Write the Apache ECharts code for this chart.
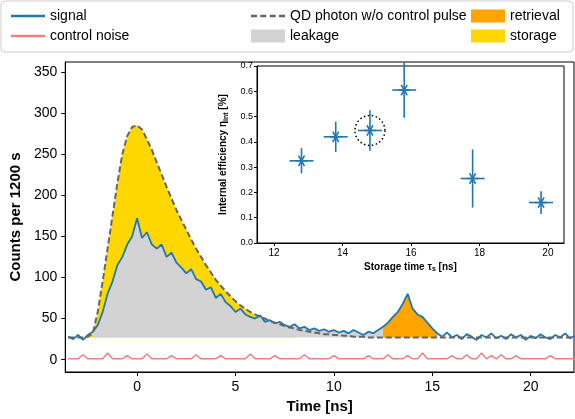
<!DOCTYPE html>
<html>
<head>
<meta charset="utf-8">
<script src="https://cdn.jsdelivr.net/npm/echarts@6/dist/echarts.min.js"></script>
<style>html,body{margin:0;padding:0;background:#fff}#main{width:575px;height:419px}</style>
</head>
<body>
<div id="main"></div>
<script>
// time grid, 0.25 ns steps from -3.5 to 22.25
var times = [];
for (var i = 0; i < 104; i++) times.push(-3.5 + i * 0.25);

var signal = [
  28, 25,
  30, 24, 30, 34,   42, 58, 80, 95,   115, 125, 140, 150,
  172, 148, 155, 140,   135, 140, 125, 130,   118, 112, 105, 110,
  98, 95, 85, 88,   75, 80, 70, 65,   58, 62, 55, 52,
  50, 54, 46, 48,   44, 46, 42, 40,   43, 38, 40, 36,
  38, 35, 37, 34,   36, 33, 35, 32,   36, 33, 30, 34,
  32, 36, 40, 45,   52, 58, 68, 80,   62, 55, 52, 45,
  38, 32, 28, 33,   27, 30, 25, 31,   28, 24, 30, 27,
  32, 26, 29, 25,   31, 27, 30, 24,   29, 26, 31, 27,
  25, 30, 27, 32,
  26, 29
];
var qdPhoton = [
  27, 27,
  27, 27, 28, 32,   58, 95, 135, 175,   215, 250, 272, 283,
  285, 280, 268, 255,   240, 225, 210, 196,   182, 170, 158, 146,
  135, 125, 115, 106,   97, 90, 83, 77,   71, 66, 62, 58,
  55, 52, 50, 47,   45, 43, 41, 39,   38, 36, 35, 34,
  33, 32, 31, 31,   30, 30, 29, 29,   28, 28, 28, 27,
  27, 27, 27, 27,   27, 27, 27, 27,   27, 27, 27, 27,
  27, 27, 27, 27,   27, 27, 27, 27,   27, 27, 27, 27,
  27, 27, 27, 27,   27, 27, 27, 27,   27, 27, 27, 27,
  27, 27, 27, 27,
  27, 27
];
var noise = [
  1, 1,
  1, 6, 1, 1,   1, 1, 8, 1,   1, 1, 5, 1,
  1, 1, 7, 1,   1, 1, 1, 5,   1, 1, 1, 1,
  6, 1, 1, 1,   1, 5, 1, 1,   1, 1, 1, 7,
  1, 1, 1, 1,   5, 1, 1, 1,   1, 1, 6, 1,
  1, 1, 1, 1,   5, 1, 1, 1,   1, 1, 1, 5,
  1, 1, 1, 6,   1, 1, 1, 5,   1, 1, 8, 1,
  1, 1, 1, 1,   5, 1, 1, 6,   1, 1, 8, 1,
  5, 1, 6, 1,   1, 5, 1, 1,   1, 1, 1, 1,
  5, 1, 1, 1,
  1, 1
];

// inset: internal efficiency vs storage time
var storageTime = [12.8, 13.8, 14.8, 15.8, 17.8, 19.8];
var efficiency = [0.325, 0.42, 0.445, 0.605, 0.255, 0.16];
var effErr = [0.05, 0.06, 0.08, 0.11, 0.115, 0.045];
var timeErr = [0.35, 0.35, 0.35, 0.35, 0.35, 0.35];
var circledPoint = 2;

function pairs(vals, lo, hi) {
  return times.map(function (t, i) {
    return [t, (t >= lo && t <= hi) ? vals[i] : null];
  });
}

var lineIcon = 'path://M0,0H40V3H0Z';
var dashIcon = 'path://M0,0H7V3H0ZM11,0H18V3H11ZM22,0H29V3H22ZM33,0H40V3H33Z';
var legendBase = { orient: 'vertical', top: 4, itemGap: 6, itemWidth: 34, itemHeight: 13,
  textStyle: { fontSize: 14, color: '#000' } };

var font = 'Liberation Sans';
var myChart = echarts.init(document.getElementById('main'));
var option = {
  animation: false,
  textStyle: { fontFamily: font },
  graphic: [{
    type: 'rect', shape: { x: 1, y: 1, width: 572, height: 51, r: 4 },
    style: { fill: '#fff', stroke: '#ccc', lineWidth: 1 }, z: -1
  }],
  legend: [
    Object.assign({ left: 6, data: [
      { name: 'signal', icon: lineIcon, itemStyle: { color: '#1f77b4' } },
      { name: 'control noise', icon: lineIcon, itemStyle: { color: '#f08080' } }] }, legendBase),
    Object.assign({ left: 246, data: [
      { name: 'QD photon w/o control pulse', icon: dashIcon, itemStyle: { color: '#666' } },
      { name: 'leakage', icon: 'rect' }] }, legendBase),
    Object.assign({ left: 466, data: [{ name: 'retrieval', icon: 'rect' }, { name: 'storage', icon: 'rect' }] }, legendBase)
  ],
  grid: [
    { left: 58, right: 1, top: 62, bottom: 47, show: true, borderColor: '#000', borderWidth: 1 },
    { left: 257, top: 66, width: 307, height: 177, show: true, backgroundColor: '#fff',
      borderColor: '#000', borderWidth: 1, z: 5 }
  ],
  xAxis: [
    { type: 'value', gridIndex: 0, min: -3.65, max: 22.2, splitNumber: 5,
      name: 'Time [ns]', nameLocation: 'middle', nameGap: 24,
      nameTextStyle: { fontSize: 15, fontWeight: 'bold', color: '#000' },
      axisLine: { onZero: false, lineStyle: { color: '#000' } }, axisTick: { length: 4 },
      axisLabel: { fontSize: 14, color: '#000', showMinLabel: false, showMaxLabel: false },
      splitLine: { show: false } },
    { type: 'value', gridIndex: 1, min: 11.5, max: 20.47, splitNumber: 5, z: 6,
      name: '{b|Storage time τ}{s|s}{b| [ns]}', nameLocation: 'middle', nameGap: 18,
      nameTextStyle: { rich: { b: { fontSize: 10, fontWeight: 'bold', color: '#000' },
        s: { fontSize: 7, fontWeight: 'bold', color: '#000', verticalAlign: 'bottom', padding: [5, 0, 0, 0] } } },
      axisLine: { onZero: false, lineStyle: { color: '#000' } }, axisTick: { length: 3 },
      axisLabel: { fontSize: 10, color: '#000', margin: 5, showMinLabel: false, showMaxLabel: false },
      splitLine: { show: false } }
  ],
  yAxis: [
    { type: 'value', gridIndex: 0, min: -15, max: 362, splitNumber: 7,
      name: 'Counts per 1200 s', nameLocation: 'middle', nameGap: 36,
      nameTextStyle: { fontSize: 15, fontWeight: 'bold', color: '#000' },
      axisLine: { onZero: false, lineStyle: { color: '#000' } }, axisTick: { length: 4 },
      axisLabel: { fontSize: 14, color: '#000', showMinLabel: false, showMaxLabel: false },
      splitLine: { show: false } },
    { type: 'value', gridIndex: 1, min: 0, max: 0.7, interval: 0.1, z: 6,
      name: '{b|Internal efficiency η}{s|int}{b| [%]}', nameLocation: 'middle', nameGap: 26,
      nameTextStyle: { rich: { b: { fontSize: 10, fontWeight: 'bold', color: '#000' },
        s: { fontSize: 7, fontWeight: 'bold', color: '#000', verticalAlign: 'bottom', padding: [5, 0, 0, 0] } } },
      axisLine: { onZero: false, lineStyle: { color: '#000' } }, axisTick: { length: 3 },
      axisLabel: { fontSize: 9, color: '#000', margin: 4, formatter: function (v) { return v.toFixed(1); } },
      splitLine: { show: false } }
  ],
  series: [
    { name: 'storage', type: 'line', data: pairs(qdPhoton, -2.5, 8), symbol: 'none',
      lineStyle: { width: 0 }, itemStyle: { color: '#ffd700' },
      areaStyle: { color: '#ffd700', opacity: 1, origin: 27 } },
    { name: 'leakage', type: 'line', data: pairs(signal, -2.3, 12.75), symbol: 'none',
      lineStyle: { width: 0 }, itemStyle: { color: '#d3d3d3' },
      areaStyle: { color: '#d3d3d3', opacity: 1, origin: 27 } },
    { name: 'retrieval', type: 'line', data: pairs(signal, 12.5, 15.25), symbol: 'none',
      lineStyle: { width: 0 }, itemStyle: { color: '#ffa500' },
      areaStyle: { color: '#ffa500', opacity: 1, origin: 27 } },
    { name: 'control noise', type: 'line', data: pairs(noise, -10, 30), symbol: 'none',
      itemStyle: { color: '#f08080' }, lineStyle: { color: '#f08080', width: 1.5 } },
    { name: 'QD photon w/o control pulse', type: 'line', data: pairs(qdPhoton, -10, 30), symbol: 'none', z: 4,
      itemStyle: { color: '#666' }, lineStyle: { color: '#666', width: 2, type: [6, 3] } },
    { name: 'signal', type: 'line', data: pairs(signal, -10, 30), symbol: 'none', z: 3,
      itemStyle: { color: '#1f77b4' }, lineStyle: { color: '#1f77b4', width: 1.8 } },
    { type: 'custom', xAxisIndex: 1, yAxisIndex: 1, z: 7,
      data: storageTime.map(function (t, i) { return [t, efficiency[i], effErr[i], timeErr[i]]; }),
      renderItem: function (params, api) {
        var x = api.value(0), y = api.value(1), ey = api.value(2), ex = api.value(3);
        var c = api.coord([x, y]);
        var top = api.coord([x, y + ey]), bot = api.coord([x, y - ey]);
        var l = api.coord([x - ex, y]), r = api.coord([x + ex, y]);
        var st = { stroke: '#1f77b4', lineWidth: 1.6 };
        var s = 6, d = s * 0.5, h = s * 0.87;
        var kids = [
          { type: 'line', shape: { x1: top[0], y1: top[1], x2: bot[0], y2: bot[1] }, style: st },
          { type: 'line', shape: { x1: l[0], y1: l[1], x2: r[0], y2: r[1] }, style: st },
          { type: 'line', shape: { x1: c[0] - s, y1: c[1], x2: c[0] + s, y2: c[1] }, style: st },
          { type: 'line', shape: { x1: c[0] - d, y1: c[1] - h, x2: c[0] + d, y2: c[1] + h }, style: st },
          { type: 'line', shape: { x1: c[0] - d, y1: c[1] + h, x2: c[0] + d, y2: c[1] - h }, style: st }
        ];
        if (params.dataIndex === circledPoint) {
          kids.push({ type: 'circle', shape: { cx: c[0], cy: c[1], r: 15 },
            style: { fill: 'none', stroke: '#000', lineWidth: 1.5, lineDash: [1.5, 2.5] } });
        }
        return { type: 'group', children: kids };
      } }
  ]
};
option && myChart.setOption(option);
</script>
</body>
</html>
